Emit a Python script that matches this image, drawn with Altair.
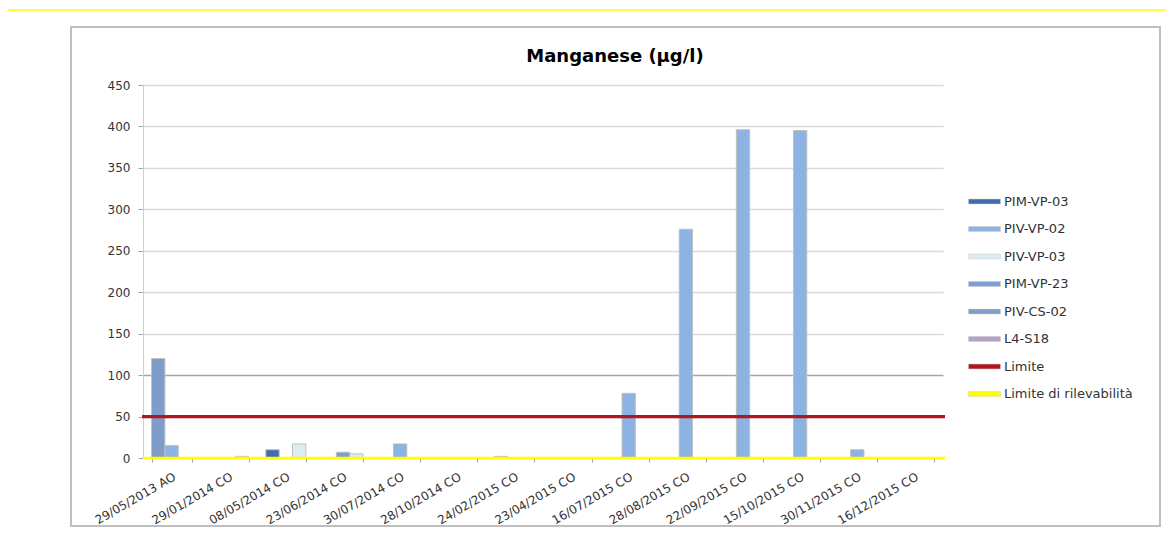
import altair as alt
import pandas as pd

TITLE = "Manganese (µg/l)"

CATEGORIES = ["29/05/2013 AO", "29/01/2014 CO", "08/05/2014 CO", "23/06/2014 CO",
              "30/07/2014 CO", "28/10/2014 CO", "24/02/2015 CO", "23/04/2015 CO",
              "16/07/2015 CO", "28/08/2015 CO", "22/09/2015 CO", "15/10/2015 CO",
              "30/11/2015 CO", "16/12/2015 CO"]

PIM_VP_03 = [None, None, 10, None, None, None, None, None, None, None, None, None, None, None]
PIV_VP_02 = [15, None, None, None, 17, None, None, None, 78, 276, 396, 395, 10, None]
PIV_VP_03 = [None, 2, 17, 5, None, None, None, None, None, None, None, None, None, None]
PIM_VP_23 = [None, None, None, 7, None, None, None, None, None, None, None, None, None, None]
PIV_CS_02 = [120, None, None, None, None, None, 2, None, None, None, None, None, None, None]
L4_S18 = [None] * 14

SERIES = {"PIM-VP-03": PIM_VP_03, "PIV-VP-02": PIV_VP_02, "PIV-VP-03": PIV_VP_03,
          "PIM-VP-23": PIM_VP_23, "PIV-CS-02": PIV_CS_02, "L4-S18": L4_S18}
GROUP_A = ["PIM-VP-03", "PIV-VP-02", "PIV-VP-03"]
GROUP_B = ["PIV-CS-02", "PIM-VP-23", "L4-S18"]

LIMITE = 50
LIMITE_RILEVABILITA = 0

LEGEND_ITEMS = ["PIM-VP-03", "PIV-VP-02", "PIV-VP-03", "PIM-VP-23", "PIV-CS-02", "L4-S18",
                "Limite", "Limite di rilevabilità"]
COLORS = ["#3F6CB3", "#8DB3E2", "#DCEEF4", "#7C9FD3", "#7F9DC9", "#B3A2C7", "#B0161F", "#FFFF00"]
Y_TICKS = list(range(0, 451, 50))

rows = []
for name, vals in SERIES.items():
    for cat, v in zip(CATEGORIES, vals):
        if v is not None:
            rows.append({"data": cat, "serie": name, "valore": v})
df = pd.DataFrame(rows, columns=["data", "serie", "valore"])

FONT = "DejaVu Sans"

x_enc = alt.X("data:N", sort=CATEGORIES,
              scale=alt.Scale(domain=CATEGORIES, paddingInner=0.3, paddingOuter=0.15),
              axis=alt.Axis(title=None, labelAngle=330, labelFontSize=12, labelFont=FONT,
                            labelColor="#333333", tickBand="extent", tickSize=4,
                            tickColor="#A6A6A6", domain=False, grid=False, labelPadding=9,
                            labelAlign="right", labelBaseline="top"))
y_enc = alt.Y("valore:Q", scale=alt.Scale(domain=[0, 450]),
              axis=alt.Axis(title=None, values=Y_TICKS, labelFontSize=12, labelFont=FONT,
                            labelColor="#333333", tickSize=5, tickColor="#A6A6A6",
                            domainColor="#D0D0D0", labelPadding=8,
                            gridColor={"condition": {"test": "datum.value === 100", "value": "#A6A6A6"},
                                       "value": "#D9D9D9"},
                            gridWidth=1.5))
color_enc = alt.Color("serie:N", scale=alt.Scale(domain=LEGEND_ITEMS, range=COLORS),
                      legend=alt.Legend(title=None, orient="none", legendX=833, legendY=108,
                                        symbolType="M-2,-0.3H2V0.3H-2Z", symbolSize=256,
                                        labelOffset=11, rowPadding=11.5, labelFontSize=13,
                                        labelFont=FONT, labelColor="#333333",
                                        symbolStrokeColor="#C8C8C8", symbolStrokeWidth=0.5,
                                        labelLimit=200))

base = alt.Chart(df).mark_bar(stroke="#C0C0C0", strokeWidth=1)

bars_a = base.transform_filter(alt.FieldOneOfPredicate(field="serie", oneOf=GROUP_A)).encode(
    x=x_enc,
    xOffset=alt.XOffset("serie:N", scale=alt.Scale(domain=GROUP_A, paddingInner=0, paddingOuter=0)),
    y=y_enc, color=color_enc)

bars_b = base.transform_filter(alt.FieldOneOfPredicate(field="serie", oneOf=GROUP_B)).encode(
    x=x_enc,
    xOffset=alt.XOffset("serie:N", scale=alt.Scale(domain=GROUP_B, paddingInner=0, paddingOuter=0)),
    y=y_enc, color=color_enc)

lim_df = pd.DataFrame({"y": [LIMITE]})
ril_df = pd.DataFrame({"y": [LIMITE_RILEVABILITA]})
limite_rule = alt.Chart(lim_df).mark_rule(color="#B0161F", strokeWidth=3.2).encode(
    y="y:Q", x=alt.value(-1), x2=alt.value(802))
ril_rule = alt.Chart(ril_df).mark_rule(color="#FFFF00", strokeWidth=2.5).encode(
    y="y:Q", x=alt.value(0), x2=alt.value(802))

one = pd.DataFrame({"k": [0]})
title_df = pd.DataFrame({"t": [TITLE]})
frame = alt.Chart(one).mark_rect(fillOpacity=0, stroke="#BFBFBF", strokeWidth=2).encode(
    x=alt.value(-72), x2=alt.value(1017), y=alt.value(-58), y2=alt.value(441))
topline = alt.Chart(one).mark_rule(color="#FFFF00", strokeWidth=1.5).encode(
    x=alt.value(-135), x2=alt.value(1023), y=alt.value(-75))
title_mark = alt.Chart(title_df).mark_text(font=FONT, fontSize=18, fontWeight="bold",
                                           color="#000000", align="center",
                                           baseline="alphabetic").encode(
    text="t:N", x=alt.value(472), y=alt.value(-23))

chart = alt.layer(frame, topline, title_mark, bars_a, bars_b, limite_rule, ril_rule).resolve_scale(
    xOffset="independent"
).properties(
    width=800, height=373,
    autosize=alt.AutoSizeParams(type="none"),
    padding={"left": 135, "top": 77, "right": 223, "bottom": 70},
).configure_view(stroke=None)

chart.save("out.html", embed_options={"renderer": "svg", "actions": False})
